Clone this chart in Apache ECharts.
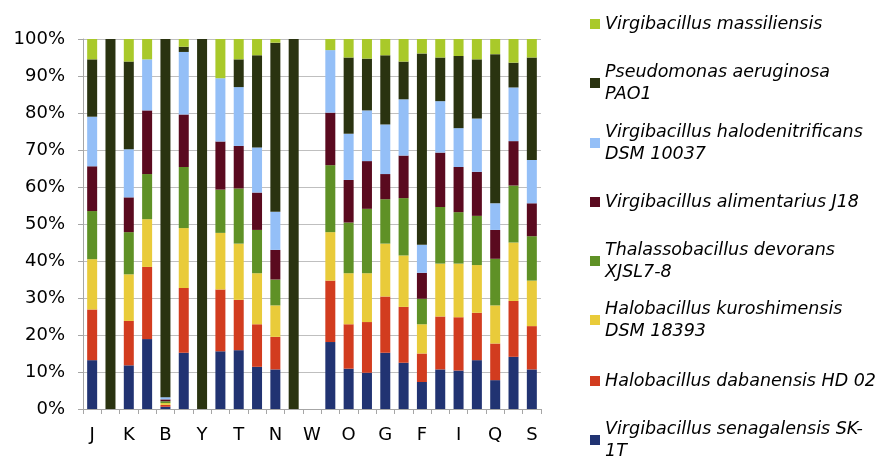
<!DOCTYPE html>
<html>
<head>
<meta charset="utf-8">
<script src="https://cdn.jsdelivr.net/npm/echarts@6/dist/echarts.min.js"></script>
<style>
html,body{margin:0;padding:0;background:#fff;}
#chart{width:887px;height:468px;}
</style>
</head>
<body>
<div id="chart"></div>
<script>
// Categories (labels shown on every other bar)
var categories = ['J','','K','','B','','Y','','T','','N','','W','','O','','G','','F','','I','','Q','','S'];
var yTickLabels = ['0%','10%','20%','30%','40%','50%','60%','70%','80%','90%','100%'];

// Series values (% of each bar), bottom to top of the stack
var senagalensis      = [13.2,0,11.8,18.9,0.6,15.2,0,15.6,15.9,11.4,10.7,0,0,18.1,10.9,9.8,15.2,12.5,7.3,10.7,10.4,13.2,7.8,14.1,10.7];
var dabanensis        = [13.7,0,12.0,19.5,0.5,17.5,0,16.7,13.6,11.5,8.8,0,0,16.6,12.0,13.7,15.2,15.1,7.7,14.3,14.4,12.8,9.9,15.1,11.7];
var kuroshimensis     = [13.6,0,12.6,12.9,0.5,16.2,0,15.3,15.2,13.8,8.5,0,0,13.1,13.8,13.2,14.3,13.9,7.9,14.3,14.5,12.9,10.3,15.8,12.3];
var devorans          = [13.0,0,11.4,12.2,0.5,16.5,0,11.7,14.9,11.7,7.0,0,0,18.1,13.7,17.4,12.0,15.5,6.9,15.3,13.9,13.3,12.6,15.4,12.0];
var alimentarius      = [12.1,0,9.4,17.2,0.5,14.2,0,13.0,11.5,10.1,8.0,0,0,14.2,11.5,12.9,6.8,11.5,7.0,14.7,12.2,11.9,7.8,12.0,8.9];
var halodenitrificans = [13.4,0,13.0,13.8,0.6,16.9,0,17.1,15.9,12.2,10.3,0,0,16.9,12.5,13.7,13.4,15.2,7.6,13.9,10.5,14.4,7.2,14.5,11.7];
var pseudomonas       = [15.5,100,23.7,0,96.8,1.4,100,0,7.5,24.9,45.7,100,0,0,20.6,14.0,18.7,10.2,51.7,11.8,19.5,16.0,40.3,6.7,27.7];
var massiliensis      = [5.5,0,6.1,5.5,0,2.1,0,10.6,5.5,4.4,1.0,0,0,3.0,5.0,5.3,4.4,6.1,3.9,5.0,4.6,5.5,4.1,6.4,5.0];

var seriesNames = [
  'Virgibacillus senagalensis SK-1T',
  'Halobacillus dabanensis HD 02',
  'Halobacillus kuroshimensis DSM 18393',
  'Thalassobacillus devorans XJSL7-8',
  'Virgibacillus alimentarius J18',
  'Virgibacillus halodenitrificans DSM 10037',
  'Pseudomonas aeruginosa PAO1',
  'Virgibacillus massiliensis'
];
var legendLabels = [
  ['Virgibacillus senagalensis SK-','1T'],
  ['Halobacillus dabanensis HD 02'],
  ['Halobacillus kuroshimensis','DSM 18393'],
  ['Thalassobacillus devorans','XJSL7-8'],
  ['Virgibacillus alimentarius J18'],
  ['Virgibacillus halodenitrificans','DSM 10037'],
  ['Pseudomonas aeruginosa','PAO1'],
  ['Virgibacillus massiliensis']
];
var seriesData = [senagalensis, dabanensis, kuroshimensis, devorans, alimentarius, halodenitrificans, pseudomonas, massiliensis];
var colors = ['#213372','#D23C1F','#E9CB3A','#5F9126','#5A0A1F','#94BFF7','#2A3310','#A9C92A'];
var legendCenters = [440, 381, 320, 261, 202, 143, 83, 24];

var FONT = 'DejaVu Sans';
var LH = 22;

var legends = seriesNames.map(function(name, i){
  var lines = legendLabels[i];
  var two = lines.length > 1;
  var boxH = two ? LH * 3 : LH;
  return {
    show: true,
    data: [name],
    left: 590,
    top: legendCenters[i] - boxH / 2,
    padding: 0,
    itemWidth: 10,
    itemHeight: 10,
    itemGap: 0,
    itemStyle: {borderWidth: 0},
    icon: 'rect',
    selectedMode: false,
    formatter: function(){ return lines.join('\n'); },
    textStyle: {
      fontFamily: FONT, fontStyle: 'italic', fontSize: 17.5, color: '#000',
      lineHeight: LH, padding: two ? [LH, 0, 0, 0] : 0
    }
  };
});

var series = seriesNames.map(function(name, i){
  return {
    name: name,
    type: 'bar',
    stack: 'total',
    barWidth: 10,
    data: seriesData[i],
    itemStyle: {color: colors[i]},
    emphasis: {disabled: true}
  };
});

var chart = echarts.init(document.getElementById('chart'), null, {renderer: 'canvas'});
chart.setOption({
  animation: false,
  backgroundColor: '#fff',
  color: colors,
  grid: {left: 83, right: 346, top: 39, bottom: 59, containLabel: false},
  legend: legends,
  xAxis: {
    type: 'category',
    data: categories,
    axisLine: {lineStyle: {color: '#A6A6A6', width: 1}},
    axisTick: {show: true, interval: 0, length: 5, lineStyle: {color: '#A6A6A6'}},
    axisLabel: {interval: 0, margin: 17, fontFamily: FONT, fontSize: 18, color: '#000'},
    splitLine: {show: false}
  },
  yAxis: {
    type: 'value',
    min: 0, max: 100, interval: 10,
    axisLine: {show: true, lineStyle: {color: '#A6A6A6', width: 1}},
    axisTick: {show: true, length: 5, lineStyle: {color: '#A6A6A6'}},
    axisLabel: {
      margin: 18, fontFamily: FONT, fontSize: 18, color: '#000',
      formatter: function(v){ return yTickLabels[Math.round(v / 10)]; }
    },
    splitLine: {show: true, lineStyle: {color: '#BFBFBF', width: 1}}
  },
  series: series
});
</script>
</body>
</html>
